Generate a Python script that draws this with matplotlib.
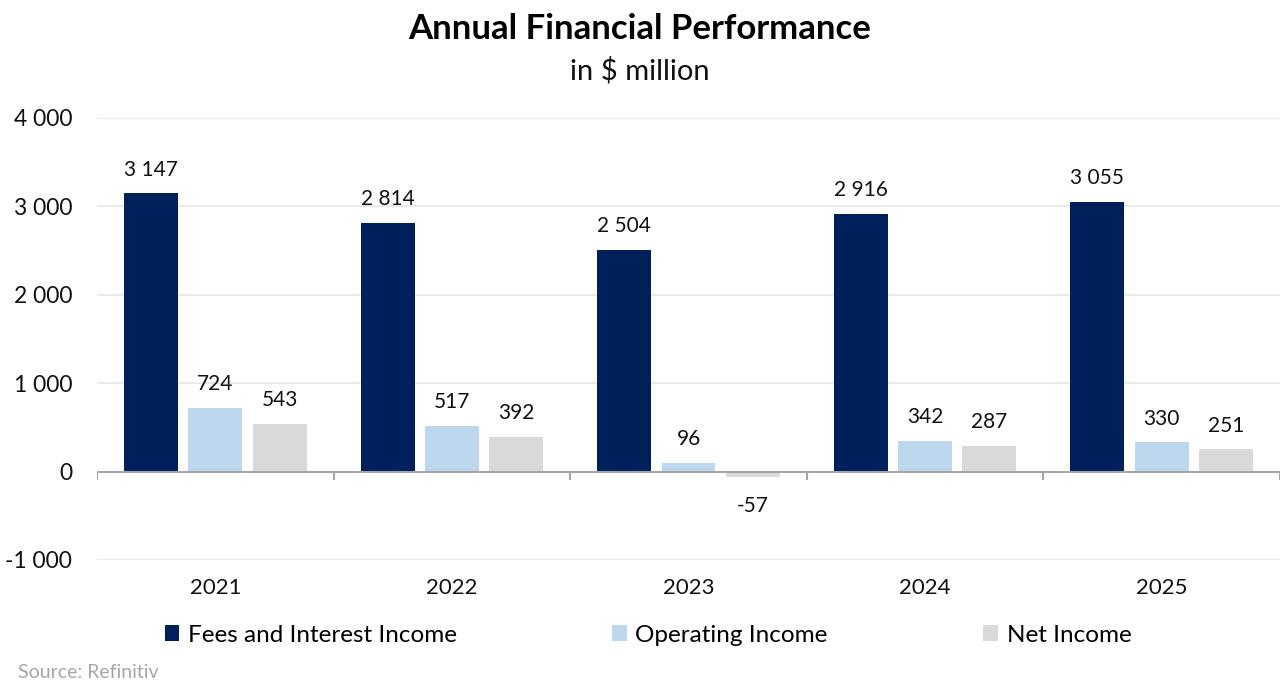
import matplotlib
import matplotlib.pyplot as plt
from matplotlib.patches import Patch

matplotlib.use("Agg")

plt.rcParams["font.family"] = ["Lato", "DejaVu Sans"]

years = ["2021", "2022", "2023", "2024", "2025"]
fees_interest = [3147, 2814, 2504, 2916, 3055]
operating_income = [724, 517, 96, 342, 330]
net_income = [543, 392, -57, 287, 251]

series = [
    ("Fees and Interest Income", fees_interest, "#00205b"),
    ("Operating Income", operating_income, "#bdd7ee"),
    ("Net Income", net_income, "#d9d9d9"),
]


def fmt(v):
    return f"{v:,}".replace(",", " ")


W, H = 1280, 691
fig = plt.figure(figsize=(W / 100, H / 100), dpi=100)
ax = fig.add_axes([97 / W, (H - 560) / H, (1280 - 97) / W, (560 - 118) / H])

x = list(range(len(years)))
bar_w = 0.228
step = 0.272

for i, (name, vals, color) in enumerate(series):
    xs = [xi + (i - 1) * step for xi in x]
    ax.bar(xs, vals, width=bar_w, color=color, label=name, zorder=2)
    for xv, v in zip(xs, vals):
        if v >= 0:
            ax.annotate(fmt(v), (xv, v), xytext=(0, 10), textcoords="offset points",
                        ha="center", va="bottom", fontsize=15, color="#111111")
        else:
            ax.annotate(fmt(v), (xv, v), xytext=(0, -14), textcoords="offset points",
                        ha="center", va="top", fontsize=15, color="#111111")

ax.set_xlim(-0.5, len(years) - 0.5)
ax.set_ylim(-1000, 4000)
ax.set_yticks([-1000, 0, 1000, 2000, 3000, 4000])
ax.set_yticklabels([fmt(v) for v in [-1000, 0, 1000, 2000, 3000, 4000]], fontsize=16.5)
ax.set_xticks(x)
ax.set_xticklabels(years, fontsize=16)
ax.tick_params(axis="both", length=0, colors="#111111")
ax.tick_params(axis="x", pad=13)
ax.tick_params(axis="y", pad=18)

for s in ax.spines.values():
    s.set_visible(False)

ax.grid(True, axis="y", color="#e6e6e6", linewidth=1.2, zorder=0)
ax.axhline(0, color="#a6a6a6", linewidth=1.5, zorder=3)
ax.vlines([b - 0.5 for b in range(len(years) + 1)], 0, -95, color="#a6a6a6",
          linewidth=1.5, zorder=3)

fig.text(0.5, (H - 29) / H, "Annual Financial Performance", ha="center", va="center",
         fontsize=25, fontweight="bold", color="#000000")
fig.text(0.5, (H - 71) / H, "in $ million", ha="center", va="center",
         fontsize=21, color="#111111")

handles = [Patch(facecolor=c, label=n) for n, _, c in series]
fig.legend(handles=handles, loc="center", bbox_to_anchor=(0.5 + 8 / W, (H - 635) / H),
           ncol=3, frameon=False, fontsize=17.5, handlelength=0.6, handleheight=0.6,
           handletextpad=0.35, columnspacing=6.4)

fig.text(18 / W, (H - 673) / H, "Source: Refinitiv", ha="left", va="center",
         fontsize=14, color="#a6a6a6")

fig.savefig("out.png", dpi=100)
plt.close(fig)
